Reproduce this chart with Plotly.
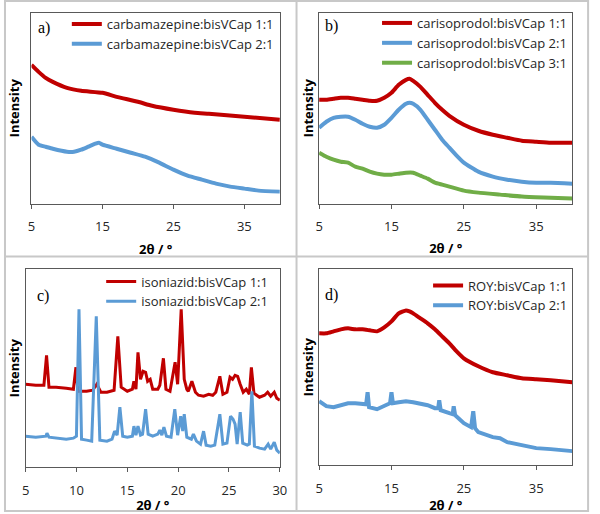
import plotly.graph_objects as go

# ---------------- data (intensity in arbitrary units) ----------------
# a) carbamazepine
a_x_11 = [5, 6, 7, 8, 10, 12, 15, 17, 20, 22, 25, 28, 30, 35, 40]
a_y_11 = [139, 132, 126, 122, 116, 113, 111, 107, 102, 98, 94, 91, 90, 87, 84]
a_x_21 = [5, 6, 7, 8, 10, 11, 12, 13, 14, 14.5, 15, 17, 19, 21, 23, 25, 27, 29, 31, 33, 35, 37, 40]
a_y_21 = [67, 59, 57, 55, 52, 52, 54, 57, 60, 61, 59, 55, 51, 47, 41, 34, 28, 24, 20, 17, 15, 13, 12]

# b) carisoprodol
b_x = [5, 6, 7, 8, 9, 10, 11, 12, 13, 14, 15, 16, 17, 17.5, 18, 19, 20, 21, 22, 23, 25, 27, 29, 31, 33, 35, 37, 40]
b_y_11 = [104, 104, 105, 106, 106, 105, 104, 103, 103, 106, 111, 119, 124, 125, 123, 117, 109, 101, 94, 88, 79, 73, 69, 66, 63, 62, 61, 61]
b_x_21 = [5, 6, 7, 8, 9, 10, 11, 12, 13, 14, 15, 16, 17, 17.5, 18, 19, 20, 21, 22, 23, 24, 25, 27, 29, 31, 33, 35, 37, 40]
b_y_21 = [76, 82, 86, 87, 87, 84, 80, 77, 76, 79, 86, 94, 100, 101, 100, 94, 84, 74, 64, 56, 48, 41, 32, 27, 24, 22, 21, 21, 20]
b_x_31 = [5, 6, 7, 8, 9, 10, 11, 12, 13, 14, 15, 16, 17, 18, 19, 20, 21, 22, 23, 25, 27, 30, 33, 36, 40]
b_y_31 = [51, 47, 44, 42, 41, 37, 35, 32, 30, 29, 29, 30, 31, 31, 28, 25, 21, 19, 17, 13, 11, 9, 7, 6, 5]

# c) isoniazid
c_x_11 = [5, 6, 6.8, 7.06, 7.3, 8, 9, 9.7, 9.95, 10.15, 11, 11.6, 12.0, 12.4, 13, 13.7, 14.07, 14.4,
          15, 15.5, 15.65, 15.85, 16.05, 16.3, 16.55, 16.8, 17.0, 17.25, 17.5, 18, 18.2, 18.55, 18.8,
          19.2, 19.7, 19.95, 20.3, 20.6, 20.85, 21.0, 21.35, 21.7, 22, 22.5, 23, 23.4, 23.7, 24.1, 24.4,
          24.8, 25.1, 25.35, 25.6, 25.85, 26.1, 26.4, 26.7, 27.0, 27.2, 27.45, 28, 28.5, 28.8, 29.1,
          29.45, 29.7, 30]
c_y_11 = [83, 82, 82, 112, 80, 80, 79, 78, 100, 76, 76, 77, 83, 75, 75, 77, 131, 80,
          76, 78, 86, 78, 115, 88, 96, 95, 86, 88, 78, 78, 82, 109, 78,
          76, 105, 83, 158, 88, 78, 76, 86, 75, 72, 71, 73, 72, 75, 91, 73,
          75, 90, 88, 92, 91, 83, 75, 78, 73, 100, 74, 70, 72, 75, 71,
          75, 69, 67]
c_x_21 = [5, 6, 7, 7.1, 7.3, 8, 9, 9.7, 10.0, 10.25, 10.5, 11, 11.5, 11.95, 12.3, 13, 13.5, 13.75,
          14.0, 14.27, 14.55, 15, 15.5, 15.65, 15.85, 16.05, 16.3, 16.5, 16.8, 17.05, 17.5, 18, 18.2,
          18.4, 18.6, 18.85, 19.3, 19.67, 19.95, 20.25, 20.45, 20.6, 20.85, 21.3, 21.5, 21.8, 22.2,
          22.5, 22.75, 23.2, 23.6, 24.1, 24.4, 24.8, 25.15, 25.4, 25.6, 25.8, 26.1, 26.35, 26.8, 27.0,
          27.25, 27.5, 28, 28.5, 28.85, 29.1, 29.45, 29.7, 30]
c_y_21 = [31, 30, 31, 34, 30, 29, 28, 29, 31, 158, 28, 27, 26, 151, 27, 26, 28, 36,
          32, 60, 31, 30, 31, 41, 32, 41, 32, 33, 58, 33, 31, 33, 37,
          32, 40, 31, 30, 58, 32, 51, 36, 53, 30, 28, 33, 26, 23,
          36, 22, 21, 22, 53, 23, 24, 51, 48, 43, 23, 55, 24, 22, 23,
          76, 21, 19, 18, 23, 18, 25, 17, 14]

# d) ROY
d_x_11 = [5, 6, 7, 8, 9, 10, 11, 12, 13, 14, 15, 16, 17, 17.5, 18, 19, 20, 21, 22, 23, 24, 25, 27, 29, 31, 33, 35, 37, 40]
d_y_11 = [132, 132, 134, 136, 137, 136, 136, 135, 134, 138, 144, 152, 155, 154, 152, 147, 142, 136, 129, 122, 114, 107, 99, 93, 90, 87, 86, 85, 83]
d_x_21 = [5, 6, 7, 8, 9, 10, 11, 11.5, 11.7, 11.9, 13, 14, 14.8, 15.0, 15.2, 16, 17, 18, 19, 20, 21, 21.45, 21.6,
          21.8, 23, 23.45, 23.6, 23.8, 25, 26, 26.3, 26.55, 27, 28, 29, 30, 31, 33, 35, 37, 40]
d_y_21 = [64, 59, 58, 60, 62, 62, 62, 61, 73, 58, 56, 59, 62, 73, 62, 63, 64, 63, 62, 60, 57, 57, 65,
          55, 52, 51, 59, 50, 42, 38, 54, 37, 33, 30, 28, 27, 23, 20, 17, 16, 14]

# ---------------- labels ----------------
a_names = ["carbamazepine:bisVCap 1:1", "carbamazepine:bisVCap 2:1"]
b_names = ["carisoprodol:bisVCap 1:1", "carisoprodol:bisVCap 2:1", "carisoprodol:bisVCap 3:1"]
c_names = ["isoniazid:bisVCap 1:1", "isoniazid:bisVCap 2:1"]
d_names = ["ROY:bisVCap 1:1", "ROY:bisVCap 2:1"]
panel_tags = ["a)", "b)", "c)", "d)"]
x_title = "2θ / °"
y_title = "Intensity"

RED = "#C00000"
BLUE = "#5B9BD5"
GREEN = "#70AD47"
W, H = 600, 514
FONT = "Open Sans"

fig = go.Figure()

def add(x, y, name, color, xa, ya, leg, shape="spline", width=4):
    fig.add_trace(go.Scatter(x=x, y=y, name=name, mode="lines",
                             line=dict(color=color, width=width, shape=shape, smoothing=0.5),
                             xaxis=xa, yaxis=ya, legend=leg))

add(a_x_11, a_y_11, a_names[0], RED, "x", "y", "legend")
add(a_x_21, a_y_21, a_names[1], BLUE, "x", "y", "legend")
add(b_x, b_y_11, b_names[0], RED, "x2", "y2", "legend2")
add(b_x_21, b_y_21, b_names[1], BLUE, "x2", "y2", "legend2")
add(b_x_31, b_y_31, b_names[2], GREEN, "x2", "y2", "legend2")
add(c_x_11, c_y_11, c_names[0], RED, "x3", "y3", "legend3", shape="linear", width=3)
add(c_x_21, c_y_21, c_names[1], BLUE, "x3", "y3", "legend3", shape="linear", width=3)
add(d_x_11, d_y_11, d_names[0], RED, "x4", "y4", "legend4")
add(d_x_21, d_y_21, d_names[1], BLUE, "x4", "y4", "legend4", shape="linear")

def px(v):
    return v / W

def py(v):
    return 1 - v / H

# plot-area boxes in pixels (left, right, top, bottom)
boxes = [(28, 281, 13, 204), (321, 579, 13, 204), (22, 281, 270, 468), (321, 579, 270, 466)]
yranges = [[0, 191], [0, 191], [0, 198], [0, 196]]
xranges = [[5, 40], [5, 40], [5, 30], [5, 40]]
dticks = [10, 10, 5, 10]
ystand = [7, 1, 2, 1]
xstand = [10, 9, 6, 4]

axfont = dict(family=FONT, size=13, color="#262626")
titlefont = dict(family=FONT, size=13, color="#000000", weight="bold")

for i, (l, r, t, b) in enumerate(boxes):
    sfx = "" if i == 0 else str(i + 1)
    fig.layout["xaxis" + sfx] = dict(
        domain=[px(l), px(r)], range=xranges[i], anchor="y" + sfx,
        tick0=5, dtick=dticks[i], ticks="outside", ticklen=4, tickcolor="#595959",
        showline=True, linecolor="#595959", linewidth=1, mirror=True,
        showgrid=False, zeroline=False, tickfont=axfont, ticklabelstandoff=7,
        title=dict(text=x_title, font=titlefont, standoff=xstand[i]))
    fig.layout["yaxis" + sfx] = dict(
        domain=[py(b), py(t)], range=yranges[i], anchor="x" + sfx,
        showticklabels=False, ticks="", showline=True, linecolor="#595959",
        linewidth=1, mirror=True, showgrid=False, zeroline=False,
        title=dict(text=y_title, font=titlefont, standoff=ystand[i]))

# legends: (left px of legend, top px)
legpos = [(64, 9), (380, 8), (99, 267), (432, 271)]
for i, (lx, ty) in enumerate(legpos):
    key = "legend" if i == 0 else "legend" + str(i + 1)
    fig.layout[key] = dict(x=px(lx), y=py(ty), xanchor="left", yanchor="top",
                           bgcolor="rgba(0,0,0,0)", borderwidth=0,
                           font=dict(family=FONT, size=13, color="#262626"),
                           itemwidth=30, tracegroupgap=0)

# panel tags
tagpos = [(33, 28), (325, 26), (32, 297), (325, 296)]
for tag, (tx, ty) in zip(panel_tags, tagpos):
    fig.add_annotation(text=tag, x=px(tx), y=py(ty), xref="paper", yref="paper",
                       xanchor="left", yanchor="middle", showarrow=False,
                       font=dict(family="Liberation Serif", size=16, color="#000000"))

# table frame lines
grey = dict(color="#C8C8C8", width=2)
fig.add_shape(type="rect", xref="paper", yref="paper", x0=px(1), x1=px(595), y0=py(512), y1=py(1), line=grey)
fig.add_shape(type="line", xref="paper", yref="paper", x0=px(298), x1=px(298), y0=py(512), y1=py(1), line=grey)
fig.add_shape(type="line", xref="paper", yref="paper", x0=px(1), x1=px(595), y0=py(257), y1=py(257), line=grey)

fig.update_layout(width=W, height=H, margin=dict(l=0, r=0, t=0, b=0),
                  paper_bgcolor="white", plot_bgcolor="white", showlegend=True,
                  font=dict(family=FONT))

fig.write_html("out.html")
